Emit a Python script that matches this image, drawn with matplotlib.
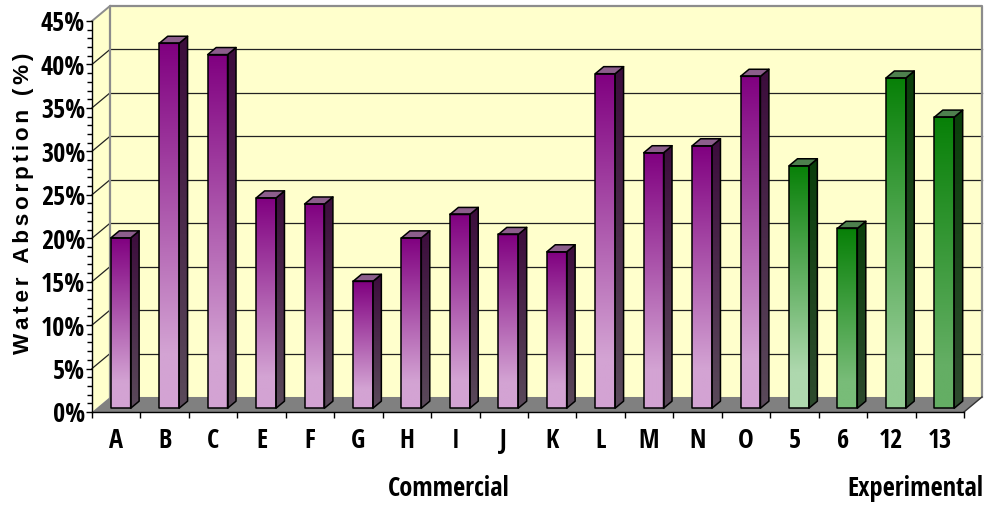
import os
import numpy as np
import matplotlib
matplotlib.use("Agg")
import matplotlib.pyplot as plt
from matplotlib import font_manager as fm
from matplotlib.patches import Polygon
from matplotlib.colors import to_rgb

# ---- data -------------------------------------------------------------
categories = ["A", "B", "C", "E", "F", "G", "H", "I", "J", "K", "L", "M",
              "N", "O", "5", "6", "12", "13"]
absorption = [19.6, 42.0, 40.7, 24.2, 23.5, 14.6, 19.6, 22.3, 20.0, 18.0,
              38.5, 29.4, 30.2, 38.2, 27.9, 20.7, 38.0, 33.5]
groups = ["Commercial"] * 14 + ["Experimental"] * 4
y_ticks = [0, 5, 10, 15, 20, 25, 30, 35, 40, 45]

# ---- styling ----------------------------------------------------------
WALL = "#FFFFCC"
FLOOR = "#808080"
group_style = {
    "Commercial": dict(top="#800080", side_top="#3C0C3C", side_bot="#5A4A5A", cap="#8C5E8C"),
    "Experimental": dict(top="#078007", side_top="#0A3E0A", side_bot="#2E4A2E", cap="#4E804E"),
}
bottom_colors = ["#D3A3D3"] * 14 + ["#AED8AE", "#78BC78", "#92CA92", "#64AE64"]


def narrow_bold_font():
    """Pick a condensed bold face for the axis labels, if one is installed."""
    wanted = ["LiberationSansNarrow-Bold", "NotoSans-CondensedBold",
              "OpenSans_Condensed-Bold", "OpenSansCondensed-Bold",
              "OpenSans-CondBold", "DejaVuSansCondensed-Bold"]
    files = {os.path.splitext(os.path.basename(f.fname))[0]: f.fname
             for f in fm.fontManager.ttflist}
    for name in wanted:
        if name in files:
            return fm.FontProperties(fname=files[name])
    return fm.FontProperties(family=["Liberation Sans", "DejaVu Sans"], weight="bold")


LABEL_FP = narrow_bold_font()

# oblique depth of the chart box (in data units) and bar placement in depth
DX, DY = 0.372, 1.73
F0, F1 = 0.25, 0.72
BAR_W = 0.41


def proj(x, y, depth):
    return (x + depth * DX, y + depth * DY)


def gradient(c_top, c_bot, n=256, hold=0.85):
    t = np.clip(np.linspace(0, 1, n) / hold, 0, 1)[:, None]
    a, b = np.array(to_rgb(c_top)), np.array(to_rgb(c_bot))
    return (a[None, :] * (1 - t) + b[None, :] * t)[:, None, :]


fig = plt.figure(figsize=(9.87, 5.05), dpi=100)
renderer = fig.canvas.get_renderer()

# size the label face so a caption spans the intended width (~122 px)
probe = fig.text(0, 0, "Commercial", fontproperties=LABEL_FP, fontsize=10)
probe_w = probe.get_window_extent(renderer).width
probe.remove()
LABEL_SIZE = 10 * 122 / probe_w

ax = fig.add_axes([92 / 987, 1 - 412 / 505, 872 / 987, 391 / 505])
n = len(categories)
x_lo, x_hi = -0.5, n - 0.5
y_lo, y_hi = y_ticks[0], y_ticks[-1]

# back wall and side wall
back = [proj(x_lo, y_lo, 1), proj(x_hi, y_lo, 1), proj(x_hi, y_hi, 1), proj(x_lo, y_hi, 1)]
ax.add_patch(Polygon(back, closed=True, fc=WALL, ec="none", zorder=0, clip_on=False))
side = [(x_lo, y_lo), proj(x_lo, y_lo, 1), proj(x_lo, y_hi, 1), (x_lo, y_hi)]
ax.add_patch(Polygon(side, closed=True, fc=WALL, ec="none", zorder=0, clip_on=False))

# gridlines on both walls
for v in y_ticks[1:-1]:
    p0, p1 = proj(x_lo, v, 1), proj(x_hi, v, 1)
    ax.plot([p0[0], p1[0]], [p0[1], p1[1]], color="#222222", lw=0.9, zorder=1, clip_on=False)
    ax.plot([x_lo, p0[0]], [v, p0[1]], color="#222222", lw=0.9, zorder=1, clip_on=False)

# wall borders
border = [proj(x_lo, y_lo, 1), proj(x_lo, y_hi, 1), proj(x_hi, y_hi, 1), proj(x_hi, y_lo, 1)]
ax.plot([p[0] for p in border], [p[1] for p in border], color="#8C8C8C", lw=1.6,
        zorder=1, clip_on=False)
pt = proj(x_lo, y_hi, 1)
ax.plot([x_lo, pt[0]], [y_hi, pt[1]], color="#8C8C8C", lw=1.4, zorder=1, clip_on=False)

# floor
floor = [(x_lo, y_lo), (x_hi, y_lo), proj(x_hi, y_lo, 1), proj(x_lo, y_lo, 1)]
ax.add_patch(Polygon(floor, closed=True, fc=FLOOR, ec="none", zorder=2, clip_on=False))
pr = proj(x_hi, y_lo, 1)
ax.plot([x_hi, pr[0]], [y_lo, pr[1]], color="#333333", lw=1.0, zorder=2, clip_on=False)

# bars
for i, (val, grp) in enumerate(zip(absorption, groups)):
    st = group_style[grp]
    fx0, fy0 = proj(i - BAR_W / 2, 0, F0)
    fx1 = fx0 + BAR_W
    fy1 = fy0 + val
    bx, by = (F1 - F0) * DX, (F1 - F0) * DY

    # side face
    side_pts = [(fx1, fy0), (fx1 + bx, fy0 + by), (fx1 + bx, fy1 + by), (fx1, fy1)]
    side_patch = Polygon(side_pts, closed=True, fc="none", ec="none",
                         transform=ax.transData)
    im = ax.imshow(gradient(st["side_top"], st["side_bot"], hold=1.0),
                   extent=[fx1, fx1 + bx, fy0, fy1 + by], origin="upper",
                   aspect="auto", interpolation="bilinear", zorder=3)
    im.set_clip_path(side_patch)
    ax.add_patch(Polygon(side_pts, closed=True, fc="none", ec="black", lw=1.1,
                         zorder=4, clip_on=False, joinstyle="round"))

    # top face
    top_pts = [(fx0, fy1), (fx1, fy1), (fx1 + bx, fy1 + by), (fx0 + bx, fy1 + by)]
    ax.add_patch(Polygon(top_pts, closed=True, fc=st["cap"], ec="black", lw=1.1,
                         zorder=4, clip_on=False, joinstyle="round"))

    # front face
    ax.imshow(gradient(st["top"], bottom_colors[i]),
              extent=[fx0, fx1, fy0, fy1], origin="upper", aspect="auto",
              interpolation="bilinear", zorder=3)
    ax.add_patch(Polygon([(fx0, fy0), (fx1, fy0), (fx1, fy1), (fx0, fy1)], closed=True,
                         fc="none", ec="black", lw=1.1, zorder=4, clip_on=False,
                         joinstyle="round"))

ax.set_xlim(x_lo, x_hi)
ax.set_ylim(y_lo, y_hi)

# axes
for s in ("top", "right"):
    ax.spines[s].set_visible(False)
for s in ("left", "bottom"):
    ax.spines[s].set_color("black")
    ax.spines[s].set_linewidth(1.0)
    ax.spines[s].set_zorder(6)

ax.set_yticks(y_ticks)
ax.set_yticklabels([f"{v}%" for v in y_ticks])
ax.set_yticks(np.arange(y_lo, y_hi + 1, 1), minor=True)
ax.tick_params(axis="y", which="major", direction="out", length=4.5, width=1, pad=0.5)
ax.tick_params(axis="y", which="minor", direction="out", length=3.5, width=1)

ax.set_xticks(np.arange(n + 1) - 0.5)
ax.set_xticklabels([])
ax.set_xticks(np.arange(n), minor=True)
ax.set_xticklabels(categories, minor=True)
ax.tick_params(axis="x", which="major", direction="out", length=4.5, width=1)
ax.tick_params(axis="x", which="minor", length=0, pad=11)

for lab in ax.get_yticklabels() + ax.get_xticklabels(minor=True):
    lab.set_fontproperties(LABEL_FP)
    lab.set_fontsize(LABEL_SIZE)

# group captions
for txt, xpos, ha in (("Commercial", 449 / 987, "center"),
                      ("Experimental", 983 / 987, "right")):
    t = fig.text(xpos, 1 - 488 / 505, txt, ha=ha, va="center")
    t.set_fontproperties(LABEL_FP)
    t.set_fontsize(LABEL_SIZE)

# y-axis title, letter-spaced
title = "\u2006".join("Water Absorption (%)")
fig.text(24 / 987, 1 - 203 / 505, title, rotation=90, ha="center", va="center",
         family=["Liberation Sans", "DejaVu Sans"], fontweight="bold", fontsize=16.2)

fig.savefig("out.png", dpi=100)
